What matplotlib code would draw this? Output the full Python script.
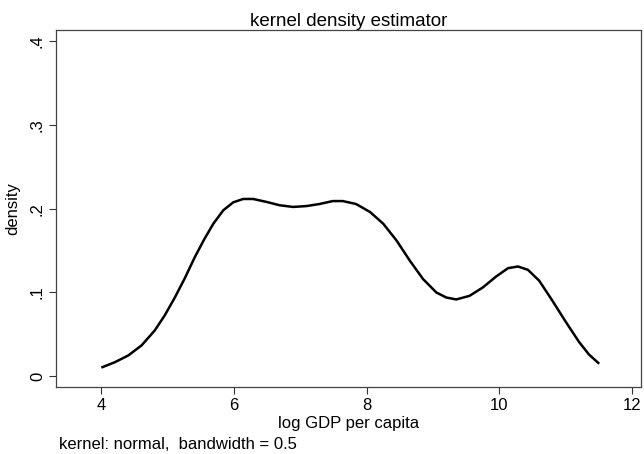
import numpy as np
import matplotlib.pyplot as plt

plt.rcParams['font.family'] = ['Liberation Sans', 'DejaVu Sans']

# точки кривой
log_gdp = [4.02, 4.21, 4.41, 4.61, 4.81, 4.96, 5.11, 5.26, 5.41, 5.55, 5.69,
           5.84, 5.99, 6.14, 6.29, 6.49, 6.69, 6.89, 7.09, 7.29, 7.49, 7.64,
           7.84, 8.05, 8.25, 8.45, 8.65, 8.85, 9.05, 9.20, 9.35, 9.55, 9.75,
           9.95, 10.13, 10.28, 10.43, 10.60, 10.80, 11.00, 11.20, 11.35, 11.49]
density = [0.011, 0.017, 0.025, 0.037, 0.055, 0.073, 0.094, 0.117, 0.142,
           0.163, 0.182, 0.198, 0.2075, 0.2115, 0.2115, 0.208, 0.204, 0.202,
           0.203, 0.2055, 0.209, 0.209, 0.2055, 0.196, 0.182, 0.162, 0.138,
           0.116, 0.100, 0.094, 0.0917, 0.096, 0.106, 0.119, 0.129, 0.131,
           0.127, 0.114, 0.090, 0.065, 0.041, 0.026, 0.016]

x_ticks = [4, 6, 8, 10, 12]
y_ticks = [0, 0.1, 0.2, 0.3, 0.4]
y_tick_labels = ['0', '.1', '.2', '.3', '.4']

fig = plt.figure(figsize=(6.44, 4.54), dpi=100)
ax = fig.add_axes([0.087, 0.147, 0.908, 0.787])

ax.plot(log_gdp, density, color='black', linewidth=1.8,
        solid_joinstyle='round')

ax.set_xlim(3.32, 12.13)
ax.set_ylim(-0.013, 0.413)
ax.set_xticks(x_ticks)
ax.set_yticks(y_ticks)
ax.set_yticklabels(y_tick_labels, rotation=90, va='center')
ax.tick_params(direction='out', length=5, width=0.8, labelsize=12,
               color='#333333', pad=3)
for s in ax.spines.values():
    s.set_color('#444444')
    s.set_linewidth(0.9)

ax.set_xlabel('log GDP per capita', fontsize=12, labelpad=2)
ax.set_ylabel('density', fontsize=12, labelpad=7)
ax.set_title('kernel density estimator', fontsize=13.5, pad=2)
fig.text(0.092, 0.02, 'kernel: normal,  bandwidth = 0.5', fontsize=12,
         va='center')

plt.savefig('out.png', dpi=100)
